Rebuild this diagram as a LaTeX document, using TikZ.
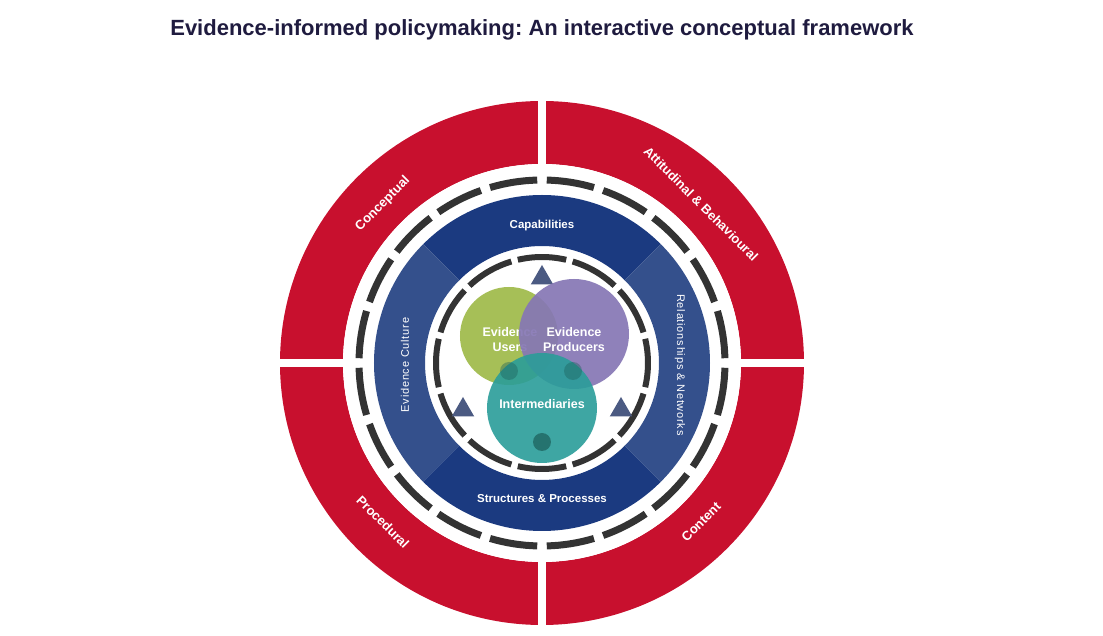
\documentclass[tikz,border=0pt]{standalone}
\usepackage{fontspec}
\setmainfont{Liberation Sans}
\usepackage{tikz}
\usetikzlibrary{shapes.geometric}
\definecolor{crimson}{HTML}{C8102E}
\definecolor{navy}{HTML}{1B3A80}
\definecolor{slateblue}{HTML}{34508C}
\definecolor{dashgray}{HTML}{333333}
\definecolor{leaf}{HTML}{A6BF57}
\definecolor{lilac}{HTML}{8677B5}
\definecolor{sea}{HTML}{2A9D99}
\definecolor{pine}{HTML}{1B5E5A}
\definecolor{marker}{HTML}{4B5A82}
\definecolor{titleink}{HTML}{1F1B3F}
\frenchspacing
\tikzset{
  wheel diagram/.style={
    x=1pt, y=1pt,
    line cap=butt
  },
  titletext/.style={
    text=titleink,
    font=\bfseries\fontsize{22}{26}\selectfont,
    inner sep=0pt
  },
  ringlabel/.style={
    text=white,
    font=\bfseries\fontsize{13}{15}\selectfont,
    inner sep=0pt
  },
  bandlabel/.style={
    text=white,
    font=\bfseries\fontsize{11.5}{13}\selectfont,
    inner sep=0pt
  },
  sidelabel/.style={
    text=white,
    font=\fontsize{11}{13}\selectfont\addfontfeature{LetterSpace=7},
    inner sep=0pt
  },
  actorlabel/.style={
    text=white,
    font=\bfseries\fontsize{12.5}{15}\selectfont,
    align=center,
    inner sep=0pt
  },
  actor/.style={
    circle,
    inner sep=0pt
  },
  dot/.style={
    circle,
    fill=pine,
    minimum size=18pt,
    inner sep=0pt
  },
  markertri/.style={
    regular polygon,
    regular polygon sides=3,
    fill=marker,
    minimum size=26pt,
    inner sep=0pt
  },
  gapline/.style={
    draw=white,
    line width=8pt
  },
  outerdash/.style={
    draw=dashgray,
    line width=7pt
  },
  innerdash/.style={
    draw=dashgray,
    line width=6pt
  }
}
\begin{document}
\begin{tikzpicture}[wheel diagram]
\useasboundingbox (-542,-273) rectangle (561,363);
\node[titletext] (title) at (0,333) {Evidence-informed policymaking: An interactive conceptual framework};

% outer red ring, four quadrants
\foreach \a in {0,90,180,270}
  \fill[crimson] (\a:199) arc[start angle=\a, end angle=\a+90, radius=199]
    -- (\a+90:262) arc[start angle=\a+90, end angle=\a, radius=262] -- cycle;
\draw[gapline] (-266,0) -- (266,0);
\draw[gapline] (0,-266) -- (0,266);
\fill[white] (0,0) circle[radius=199];

% outer dashed ring
\foreach \k in {0,...,19}
  \draw[outerdash] ({18*\k+1.5}:183) arc[start angle={18*\k+1.5}, end angle={18*\k+16.5}, radius=183];

% blue band
\foreach \a/\c in {45/navy,135/slateblue,225/navy,315/slateblue}
  \fill[\c] (\a:117) arc[start angle=\a, end angle=\a+90, radius=117]
    -- (\a+90:168) arc[start angle=\a+90, end angle=\a, radius=168] -- cycle;

% inner dashed ring
\foreach \k in {0,...,11}
  \draw[innerdash] ({30*\k-13.2}:106) arc[start angle={30*\k-13.2}, end angle={30*\k+13.2}, radius=106];

\node[markertri] (tritop) at (0,85) {};
\node[markertri] (trileft) at (-79,-47) {};
\node[markertri] (triright) at (79,-47) {};

% actors
\node[actor, fill=leaf, minimum size=98pt] (users) at (-33,27) {};
\node[actorlabel] (userstext) at (-32,23) {Evidence\\Users};
\node[actor, fill=lilac, fill opacity=0.92, minimum size=110pt] (producers) at (32,29) {};
\node[actorlabel] (producerstext) at (32,23) {Evidence\\Producers};
\node[actor, fill=sea, fill opacity=0.9, minimum size=110pt] (intermed) at (0,-45) {};
\node[dot, fill opacity=0.4] (dotleft) at (-33,-8) {};
\node[dot, fill opacity=0.4] (dotright) at (31,-8) {};
\node[dot, fill opacity=0.7] (dotbottom) at (0,-79) {};
\node[actorlabel] (intermedtext) at (0,-41) {Intermediaries};

% band labels
\node[bandlabel] (capab) at (0,137) {Capabilities};
\node[bandlabel] (struct) at (0,-136) {Structures \& Processes};
\node[sidelabel, rotate=90] (culture) at (-137,-2) {Evidence Culture};
\node[sidelabel, rotate=-90] (relnet) at (138,-2) {Relationships \& Networks};

% ring labels
\node[ringlabel, rotate=45] (concept) at (135:225) {Conceptual};
\node[ringlabel, rotate=-45] (attit) at (45:225) {Attitudinal \& Behavioural};
\node[ringlabel, rotate=-45] (proced) at (225:225) {Procedural};
\node[ringlabel, rotate=45] (content) at (315:225) {Content};
\end{tikzpicture}
\end{document}
